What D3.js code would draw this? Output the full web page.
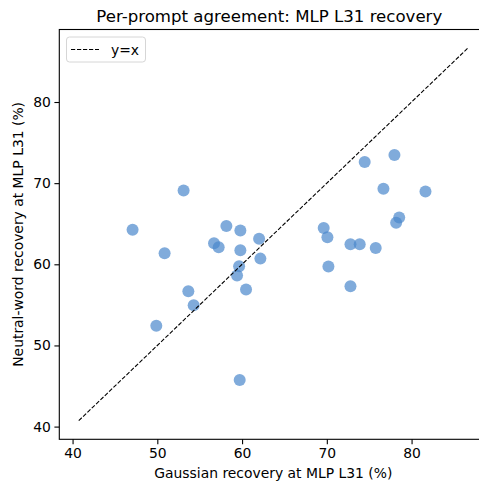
<!DOCTYPE html>
<html><head><meta charset="utf-8">
<script src="https://cdn.jsdelivr.net/npm/d3@7"></script>
<style>body{margin:0;background:#fff}svg{display:block}text{font-family:"DejaVu Sans",sans-serif}</style>
</head><body>
<svg id="c" width="479" height="482"></svg>
<script>
const gaussian = [53.10,47.08,58.15,59.80,62.01,56.69,57.24,59.80,50.86,62.16,59.65,59.41,53.66,60.47,54.29,49.88,59.72,77.98,74.47,76.68,81.64,78.54,78.18,69.63,70.07,72.79,73.88,75.77,70.19,72.79];
const neutral  = [69.10,64.27,64.72,64.18,63.16,62.58,62.09,61.72,61.35,60.70,59.75,58.61,56.68,56.89,54.96,52.42,45.73,73.46,72.60,69.31,68.98,65.78,65.13,64.48,63.32,62.46,62.46,62.02,59.72,57.29];
const xTicks = [40,50,60,70,80];
const yTicks = [40,50,60,70,80];
const title = "Per-prompt agreement: MLP L31 recovery";
const xLabel = "Gaussian recovery at MLP L31 (%)";
const yLabel = "Neutral-word recovery at MLP L31 (%)";

const svg = d3.select("#c");
const L = 59.3, R = 487.3, T = 29.5, B = 439.3;
const lo = Math.min(d3.min(gaussian), d3.min(neutral)) - 5;
const hi = Math.max(d3.max(gaussian), d3.max(neutral)) + 5;
const pad = (hi - lo) * 0.05;
const x = d3.scaleLinear().domain([lo - pad, hi + pad]).range([L, R]);
const y = d3.scaleLinear().domain([lo - pad, hi + pad]).range([B, T]);

// points
svg.append("g").selectAll("circle").data(gaussian).join("circle")
  .attr("cx", (d) => x(d)).attr("cy", (d, i) => y(neutral[i]))
  .attr("r", 6).attr("fill", "#4a88cc").attr("fill-opacity", 0.7);

// diagonal
svg.append("line").attr("x1", x(lo)).attr("y1", y(lo)).attr("x2", x(hi)).attr("y2", y(hi))
  .attr("stroke", "#000").attr("stroke-width", 1.1).attr("stroke-dasharray", "4.2,1.8");

// axes frame
svg.append("rect").attr("x", L).attr("y", T).attr("width", R - L).attr("height", B - T)
  .attr("fill", "none").attr("stroke", "#000").attr("stroke-width", 1.1);

const xa = svg.append("g").attr("transform", `translate(0,${B})`)
  .call(d3.axisBottom(x).tickValues(xTicks).tickSize(4.9).tickPadding(3.5).tickFormat(d3.format("d")));
const ya = svg.append("g").attr("transform", `translate(${L},0)`)
  .call(d3.axisLeft(y).tickValues(yTicks).tickSize(4.9).tickPadding(3.5).tickFormat(d3.format("d")));
[xa, ya].forEach(a => {
  a.select(".domain").remove();
  a.selectAll("line").attr("stroke", "#000").attr("stroke-width", 1.1);
  a.selectAll("text").attr("font-size", 13.9).attr("fill", "#000").style("font-family", "DejaVu Sans");
});

svg.append("text").attr("x", (L + R) / 2 - 4).attr("y", 22).attr("text-anchor", "middle")
  .attr("font-size", 16.6).text(title);
svg.append("text").attr("x", (L + R) / 2).attr("y", 478).attr("text-anchor", "middle")
  .attr("font-size", 13.9).text(xLabel);
svg.append("text").attr("transform", `translate(23,${(T + B) / 2}) rotate(-90)`).attr("text-anchor", "middle")
  .attr("font-size", 13.9).text(yLabel);

// legend
const lg = svg.append("g");
lg.append("rect").attr("x", 66.5).attr("y", 37).attr("width", 79).attr("height", 25).attr("rx", 3)
  .attr("fill", "#fff").attr("fill-opacity", 0.8).attr("stroke", "#d6d6d6").attr("stroke-width", 1);
lg.append("line").attr("x1", 71).attr("x2", 99).attr("y1", 49.5).attr("y2", 49.5)
  .attr("stroke", "#000").attr("stroke-width", 1.1).attr("stroke-dasharray", "4.2,1.8");
lg.append("text").attr("x", 111).attr("y", 54.5).attr("font-size", 13.9).text("y=x");
</script>
</body></html>
